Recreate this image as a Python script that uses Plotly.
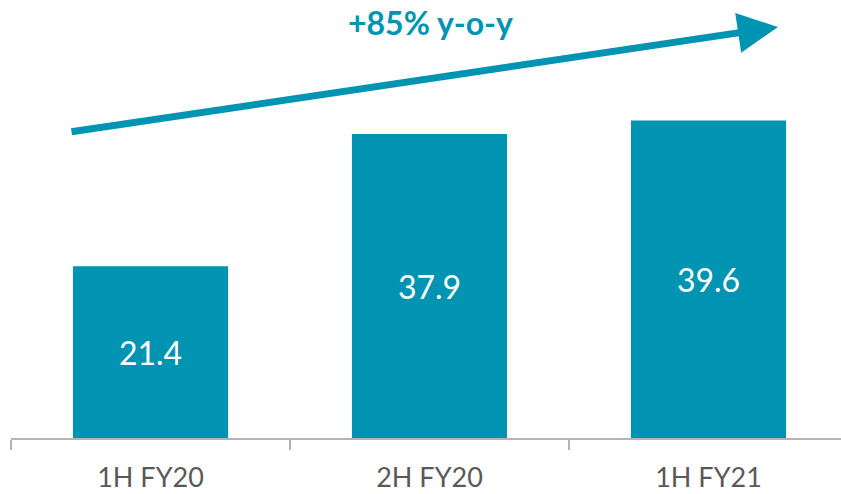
import plotly.graph_objects as go

categories = ["1H FY20", "2H FY20", "1H FY21"]
values = [21.4, 37.9, 39.6]
value_labels = ["21.4", "37.9", "39.6"]
growth_label = "+85% y-o-y"

TEAL = "#0094B3"
GREY_TEXT = "#595959"
AXIS_GREY = "#B4B4B4"

PLOT_H = 438.0
PLOT_W = 830.0

fig = go.Figure()
fig.add_trace(go.Bar(
    x=categories,
    y=values,
    text=value_labels,
    textposition="inside",
    insidetextanchor="middle",
    textangle=0,
    textfont=dict(family="Lato", size=32, color="white"),
    marker=dict(color=TEAL, line=dict(width=0)),
    width=0.556,
    hoverinfo="skip",
))

fig.add_annotation(
    xref="paper", yref="paper",
    x=(778 - 11) / PLOT_W, y=(438 - 27) / PLOT_H,
    axref="pixel", ayref="pixel",
    ax=-708, ay=105,
    text="",
    showarrow=True,
    arrowhead=2,
    arrowsize=1.15,
    arrowwidth=7,
    arrowcolor=TEAL,
    standoff=0,
)

fig.add_annotation(
    xref="paper", yref="paper",
    x=(430 - 11) / PLOT_W, y=(438 - 22) / PLOT_H,
    text="<b>" + growth_label + "</b>",
    showarrow=False,
    font=dict(family="Lato", size=32, color=TEAL),
    xanchor="center", yanchor="middle",
)

fig.update_layout(
    width=841, height=494,
    margin=dict(l=11, r=0, t=0, b=56, autoexpand=False),
    paper_bgcolor="white",
    plot_bgcolor="white",
    showlegend=False,
)
fig.update_xaxes(
    type="category",
    range=[-0.5, 2.4749],
    showline=True, linecolor=AXIS_GREY, linewidth=1.5,
    ticks="outside", tickson="boundaries", ticklen=10, tickcolor=AXIS_GREY, tickwidth=1.5,
    ticklabelstandoff=15,
    tickfont=dict(family="Lato", size=27, color=GREY_TEXT),
    showgrid=False, zeroline=False,
)
fig.update_yaxes(
    range=[0, PLOT_H / 8.02],
    visible=False, showgrid=False, zeroline=False,
)

fig.write_html(
    "out.html",
    config={"displayModeBar": False, "staticPlot": True},
    post_script="document.body.style.margin='0';document.body.style.overflow='hidden';",
)
